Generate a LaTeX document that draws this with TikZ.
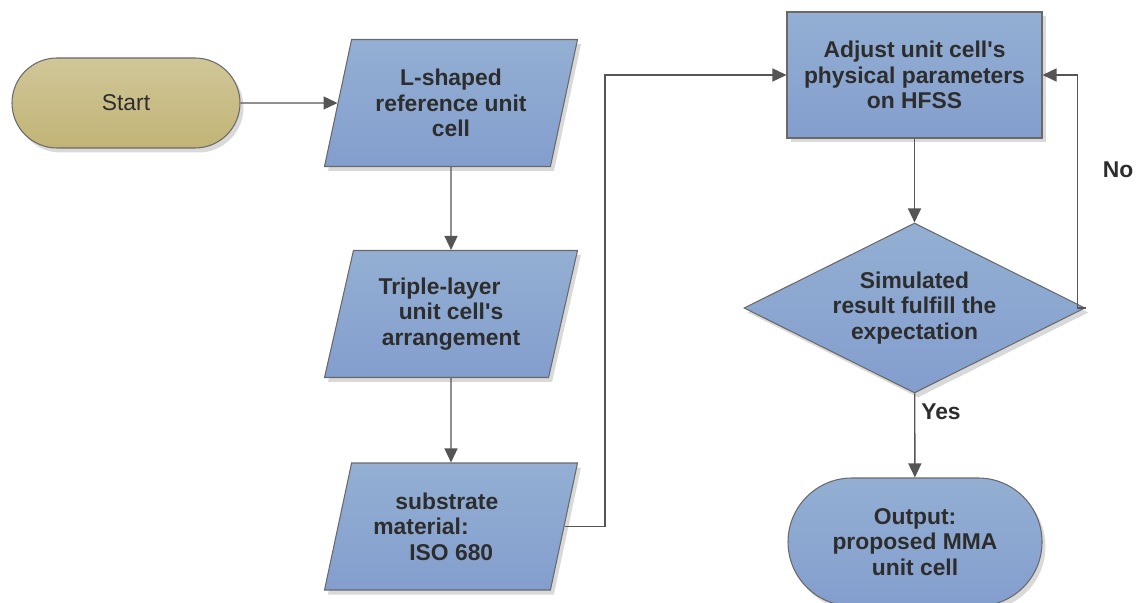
\documentclass[tikz,border=0pt]{standalone}
\usepackage{fontspec}
\setmainfont{Liberation Sans}
\usetikzlibrary{positioning, shapes.geometric, shapes.misc, shadows, arrows.meta}
\definecolor{boxtop}{RGB}{148, 175, 211}
\definecolor{boxbot}{RGB}{131, 158, 205}
\definecolor{starttop}{RGB}{208, 198, 152}
\definecolor{startbot}{RGB}{194, 180, 118}
\definecolor{edgecol}{RGB}{105, 105, 105}
\definecolor{txtcol}{RGB}{45, 45, 45}
\definecolor{linecol}{RGB}{85, 85, 85}
\tikzset{
  shadebox/.style={draw=edgecol, line width=0.6pt, top color=boxtop, bottom color=boxbot,
                   drop shadow={opacity=0.3, shadow xshift=0.7mm, shadow yshift=-0.9mm},
                   text=txtcol, font=\fontsize{13}{14.5}\selectfont\bfseries,
                   align=center, inner sep=0pt},
  terminal/.style={shadebox, rounded rectangle},
  parabox/.style={shadebox, trapezium, trapezium left angle=68.2, trapezium right angle=111.8,
                  trapezium stretches body, minimum width=5.06cm, minimum height=2.54cm},
  decision/.style={shadebox, diamond, aspect=2, minimum width=6.82cm, minimum height=3.4cm},
  flow/.style={-{Triangle[length=2.8mm, width=2.6mm]}, draw=linecol, line width=0.8pt},
  lbl/.style={font=\fontsize{13}{14.5}\selectfont\bfseries, text=txtcol},
}

\begin{document}
\begin{tikzpicture}[node distance=0.5cm]
  \useasboundingbox (0,0) rectangle (22.76,12.04);

  \node[terminal, top color=starttop, bottom color=startbot, font=\fontsize{13}{14.5}\selectfont,
        minimum width=4.56cm, minimum height=1.8cm] (start) at (2.52,9.98) {Start};
  \node[parabox] (ref) at (9.02,9.98) {L-shaped\\reference unit\\cell};
  \node[parabox] (layer) at (9.02,5.76)
       {Triple-layer\kern0.46cm\\unit cell\textquotesingle s\\arrangement};
  \node[parabox, align=left] (sub) at (9.02,1.51)
       {\hspace*{0.44cm}substrate\\material:\kern1.2cm\\\hspace*{0.72cm}ISO 680};

  \node[shadebox, minimum width=5.1cm, minimum height=2.52cm] (hfss) at (18.29,10.54)
       {Adjust unit cell\textquotesingle s\\physical parameters\\on HFSS};
  \node[decision] (check) at (18.29,5.88) {Simulated\\result fulfill the\\expectation};
  \node[terminal, minimum width=5.08cm, minimum height=2.56cm] (out) at (18.3,1.2)
       {Output:\\proposed MMA\\unit cell};

  \coordinate (riser) at (12.1,0);
  \coordinate (back) at ([xshift=0.7cm]hfss.east);

  \draw[flow] (start) -- (ref);
  \draw[flow] (ref) -- (layer);
  \draw[flow] (layer) -- (sub);
  \draw[flow] (sub.east) -| (riser |- hfss.west) -- (hfss.west);
  \draw[flow] (hfss) -- (check);
  \draw[flow] (check.east) -| (back) -- (hfss.east);
  \draw[flow] (check) -- node[lbl, right, pos=0.22] (yes) {Yes} (out);
  \node[lbl] (no) at (22.36,8.64) {No};
\end{tikzpicture}
\end{document}
